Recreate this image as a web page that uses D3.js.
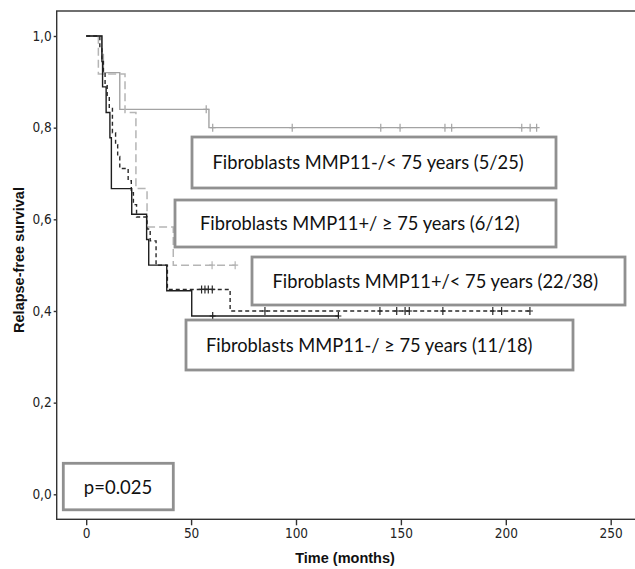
<!DOCTYPE html>
<html>
<head>
<meta charset="utf-8">
<script src="https://cdn.jsdelivr.net/npm/d3@7"></script>
<style>
  body { margin: 0; background: white; }
</style>
</head>
<body>
<script>
var svgWidth = 635
var svgHeight = 569

// values, steps are [month, survival after the step]
var xTicks = [0, 50, 100, 150, 200, 250]
var yTicks = [0, 0.2, 0.4, 0.6, 0.8, 1.0]

var groupLabels = [
  'Fibroblasts MMP11-/< 75 years (5/25)',
  'Fibroblasts MMP11+/ \u2265 75 years (6/12)',
  'Fibroblasts MMP11+/< 75 years (22/38)',
  'Fibroblasts MMP11-/ \u2265 75 years (11/18)'
]
var pValueLabel = 'p=0.025'

var stepsNegYoung = [[0, 1], [7.4, 0.96], [8.2, 0.92], [16, 0.84], [58.5, 0.80], [215, 0.80]]
var censorNegYoung = [57.2, 60.3, 98.2, 140.4, 149.6, 171, 174.2, 207.6, 211.6, 214.7]

var stepsPosOld = [[0, 1], [5.8, 0.917], [18.5, 0.833], [23.7, 0.667], [29, 0.583], [41.5, 0.5], [71.5, 0.5]]
var censorPosOld = [60, 71]

var stepsPosYoung = [[0, 1], [6.5, 0.974], [7.5, 0.947], [8.2, 0.921], [9, 0.895], [10, 0.868], [11, 0.842],
  [12.5, 0.789], [14, 0.763], [15, 0.737], [16, 0.711], [20, 0.684], [21.5, 0.658], [22.5, 0.632],
  [24, 0.605], [29, 0.579], [30.5, 0.553], [33.3, 0.5], [38.7, 0.447], [68.6, 0.40], [212.5, 0.40]]
var censorPosYoung = [55, 56.6, 58.2, 60.1, 85.2, 140, 148, 152, 154, 170, 193.8, 198, 211.5]

var stepsNegOld = [[0, 1], [7.5, 0.944], [7.8, 0.889], [9.5, 0.833], [11.3, 0.778], [12, 0.667],
  [21.7, 0.611], [28.8, 0.556], [29.8, 0.5], [38.4, 0.444], [50.3, 0.389], [120.5, 0.389]]
var censorNegOld = [60.3, 120.2]

var svg = d3.select('body')
  .append('svg')
  .attr('width', svgWidth)
  .attr('height', svgHeight)
  .style('font-family', 'Arial, "Liberation Sans", sans-serif')

var plotLeft = 56.7
var plotTop = 11
var plotBottom = 519.3

var x = d3.scaleLinear().domain([0, 250]).range([86.2, 610.7])
var y = d3.scaleLinear().domain([0, 1]).range([494.3, 36])

// frame (right side runs off the picture)
svg.append('rect')
  .attr('x', plotLeft)
  .attr('y', plotTop)
  .attr('width', svgWidth + 10 - plotLeft)
  .attr('height', plotBottom - plotTop)
  .attr('fill', 'none')
  .attr('stroke', '#333')
  .attr('stroke-width', 1.4)

var tickFont = '"Liberation Sans Narrow", "Arial Narrow", "DejaVu Sans Condensed", sans-serif'
var boxFont = 'Lato, "Open Sans", sans-serif'

var yAxis = svg.append('g')
  .attr('transform', 'translate(' + plotLeft + ',0)')
  .call(d3.axisLeft(y).tickValues(yTicks).tickSize(3).tickPadding(2)
    .tickFormat(d => d3.format('.1f')(d).replace('.', ',')))
yAxis.select('.domain').remove()

var xAxis = svg.append('g')
  .attr('transform', 'translate(0,' + plotBottom + ')')
  .call(d3.axisBottom(x).tickValues(xTicks).tickSize(6).tickPadding(3))
xAxis.select('.domain').remove()

svg.selectAll('.tick line').attr('stroke', '#333').attr('stroke-width', 1.4)
svg.selectAll('.tick text')
  .attr('fill', '#222')
  .style('font-family', tickFont)
  .style('font-size', '13.5px')

svg.append('text')
  .attr('x', 345)
  .attr('y', 563)
  .attr('text-anchor', 'middle')
  .style('font-weight', 'bold')
  .style('font-size', '14.5px')
  .attr('fill', '#111')
  .text('Time (months)')

svg.append('text')
  .attr('transform', 'translate(23.5,260) rotate(-90)')
  .attr('text-anchor', 'middle')
  .style('font-weight', 'bold')
  .style('font-size', '14.5px')
  .attr('fill', '#111')
  .text('Relapse-free survival')

// survival curves
var jsonCurves = [
  { steps: stepsNegYoung, censor: censorNegYoung, color: '#a3a3a3', dash: null, width: 1.4 },
  { steps: stepsPosOld, censor: censorPosOld, color: '#b5b5b5', dash: '8,4', width: 1.5 },
  { steps: stepsPosYoung, censor: censorPosYoung, color: '#2a2a2a', dash: '4,3', width: 1.4 },
  { steps: stepsNegOld, censor: censorNegOld, color: '#1e1e1e', dash: null, width: 1.4 }
]

function survivalAt(steps, t) {
  var s = steps[0][1]
  steps.forEach(d => { if (d[0] <= t) s = d[1] })
  return s
}

var stepLine = d3.line()
  .x(d => x(d[0]))
  .y(d => y(d[1]))
  .curve(d3.curveStepAfter)

var curveGroups = svg.selectAll('g.curve')
  .data(jsonCurves)
  .enter()
  .append('g')
  .attr('class', 'curve')

curveGroups.append('path')
  .attr('d', d => stepLine(d.steps))
  .attr('fill', 'none')
  .attr('stroke', d => d.color)
  .attr('stroke-width', d => d.width)
  .attr('stroke-dasharray', d => d.dash)

curveGroups.each(function (c) {
  d3.select(this).selectAll('path.censor')
    .data(c.censor)
    .enter()
    .append('path')
    .attr('class', 'censor')
    .attr('d', t => {
      var cx = x(t), cy = y(survivalAt(c.steps, t))
      return 'M' + cx + ',' + (cy - 4) + 'V' + (cy + 4) + 'M' + (cx - 3) + ',' + cy + 'H' + (cx + 3)
    })
    .attr('fill', 'none')
    .attr('stroke', c.color)
    .attr('stroke-width', 1.2)
})

// legend boxes placed over the plot
var jsonBoxes = [
  { x: 192, y: 137, width: 364, height: 51, textX: 212.5, label: groupLabels[0] },
  { x: 175, y: 200, width: 381, height: 47, textX: 200, label: groupLabels[1] },
  { x: 252, y: 257, width: 373, height: 48, textX: 272.5, label: groupLabels[2] },
  { x: 186, y: 320, width: 387, height: 50, textX: 206, label: groupLabels[3] }
]

var boxGroups = svg.selectAll('g.legendBox')
  .data(jsonBoxes)
  .enter()
  .append('g')
  .attr('class', 'legendBox')

boxGroups.append('rect')
  .attr('x', d => d.x)
  .attr('y', d => d.y)
  .attr('width', d => d.width)
  .attr('height', d => d.height)
  .attr('fill', 'white')
  .attr('stroke', '#909090')
  .attr('stroke-width', 2.8)

boxGroups.append('text')
  .attr('x', d => d.textX)
  .attr('y', d => d.y + d.height / 2 + 6.5)
  .style('font-family', boxFont)
  .style('font-size', '18.3px')
  .attr('fill', '#111')
  .text(d => d.label)

var pBox = svg.append('g')
pBox.append('rect')
  .attr('x', 63.3)
  .attr('y', 463.3)
  .attr('width', 110)
  .attr('height', 46.5)
  .attr('fill', 'white')
  .attr('stroke', '#909090')
  .attr('stroke-width', 2.8)
pBox.append('text')
  .attr('x', 118)
  .attr('y', 493.5)
  .attr('text-anchor', 'middle')
  .style('font-family', boxFont)
  .style('font-size', '18.5px')
  .attr('fill', '#111')
  .text(pValueLabel)
</script>
</body>
</html>
